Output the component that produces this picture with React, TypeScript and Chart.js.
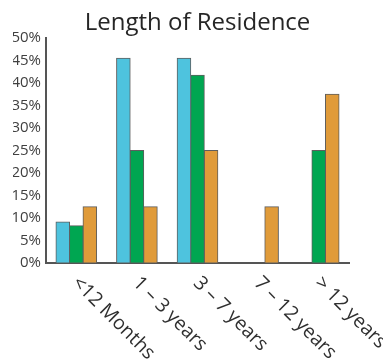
import React, { useEffect, useRef } from "react";
import { Chart, registerables } from "chart.js";

Chart.register(...registerables);

const categories = ["<12 Months", "1 – 3 years", "3 – 7 years", "7 – 12 years", "> 12 years"];
const seriesBlue: (number | null)[] = [9.1, 45.5, 45.5, null, null];
const seriesGreen: (number | null)[] = [8.3, 25, 41.7, null, 25];
const seriesOrange: (number | null)[] = [12.5, 12.5, 25, 12.5, 37.5];
const yTicks = [0, 5, 10, 15, 20, 25, 30, 35, 40, 45, 50];
const chartTitle = "Length of Residence";

const FONT = "'Open Sans', 'DejaVu Sans', sans-serif";

// Title centred over the plot area, plus the category names slanted 45° downwards.
const textDecor = {
  id: "textDecor",
  afterDraw(chart: any) {
    const { ctx, chartArea } = chart;
    const xScale = chart.scales.x;
    ctx.save();
    ctx.font = `24px ${FONT}`;
    ctx.fillStyle = "#262626";
    ctx.textAlign = "center";
    ctx.textBaseline = "alphabetic";
    ctx.fillText(chartTitle, (chartArea.left + chartArea.right) / 2, 30);

    ctx.font = `19.5px ${FONT}`;
    ctx.fillStyle = "#303030";
    ctx.textAlign = "left";
    ctx.textBaseline = "middle";
    categories.forEach((label, i) => {
      const x = xScale.getPixelForValue(i);
      const y = chartArea.bottom + 17;
      ctx.save();
      ctx.translate(x - 1, y);
      ctx.rotate(Math.PI / 4);
      ctx.fillText(label, 0, 0);
      ctx.restore();
    });
    ctx.restore();
  },
};

export default function App() {
  const canvasRef = useRef<HTMLCanvasElement | null>(null);

  useEffect(() => {
    document.body.style.margin = "0";
    const canvas = canvasRef.current;
    if (!canvas) return;
    const barStyle = {
      borderColor: "#5e5e5e",
      borderWidth: 1,
      borderSkipped: false as const,
      inflateAmount: 0.5,
    };
    const chart = new Chart(canvas, {
      type: "bar",
      data: {
        labels: categories,
        datasets: [
          { data: seriesBlue, backgroundColor: "#4ec3de", ...barStyle },
          { data: seriesGreen, backgroundColor: "#00a651", ...barStyle },
          { data: seriesOrange, backgroundColor: "#e09b3a", ...barStyle },
        ],
      },
      options: {
        animation: false,
        responsive: true,
        maintainAspectRatio: false,
        layout: { padding: { left: 13, right: 34, top: 38, bottom: 99 } },
        datasets: { bar: { categoryPercentage: 0.67, barPercentage: 1 } },
        plugins: {
          legend: { display: false },
          tooltip: { enabled: false },
          title: { display: false },
        },
        scales: {
          x: {
            grid: { display: false, drawTicks: false },
            border: { display: true, color: "#555555", width: 2 },
            ticks: { display: false },
            afterFit(scale: any) {
              scale.height = 0;
            },
          },
          y: {
            min: 0,
            max: 50,
            afterBuildTicks(scale: any) {
              scale.ticks = yTicks.map((v) => ({ value: v }));
            },
            grid: { display: false, drawTicks: false },
            border: { display: true, color: "#555555", width: 2 },
            ticks: {
              padding: 5,
              color: "#404040",
              font: { family: FONT, size: 15 },
              callback: (v: any) => `${v}%`,
            },
            afterFit(scale: any) {
              scale.width = 33;
            },
          },
        },
      },
      plugins: [textDecor],
    });
    return () => chart.destroy();
  }, []);

  return (
    <div style={{ position: "relative", width: 383, height: 362, background: "#fff" }}>
      <canvas ref={canvasRef} />
    </div>
  );
}
